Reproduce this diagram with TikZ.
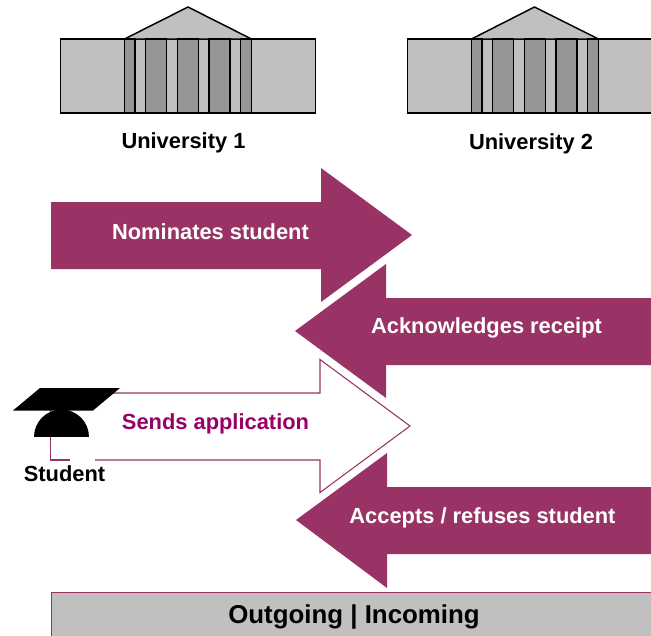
\documentclass[tikz,border=0pt]{standalone}
\usepackage{fontspec}
\setmainfont{Liberation Sans}
\definecolor{plum}{RGB}{153,51,102}
\definecolor{plumtext}{RGB}{153,0,102}
\definecolor{lightgrey}{RGB}{192,192,192}
\definecolor{midgrey}{RGB}{150,150,150}
\tikzset{
  wall/.style={draw=black,line width=1.1pt,fill=lightgrey},
  column/.style={draw=black,line width=1.1pt,fill=midgrey},
  solidarrow/.style={fill=plum},
  openarrow/.style={draw=plum,line width=0.8pt,fill=white},
  whitelabel/.style={text=white,font=\fontsize{16.4pt}{18pt}\bfseries},
  blacklabel/.style={text=black,font=\fontsize{16.4pt}{18pt}\bfseries},
}
\begin{document}
\begin{tikzpicture}[x=0.75pt,y=0.75pt,yscale=-1,xscale=1]
\useasboundingbox (0,0) rectangle (651,636);
\clip (0,0) rectangle (651,636);

%Shape: Building 1
\draw [wall] (60.5,39) rectangle (315.5,113);
\draw [wall] (124.5,39) -- (188,7) -- (251.5,39) -- cycle;
\draw [column] (124.5,39) rectangle (135,113);
\draw [column] (145.5,39) rectangle (166.5,113);
\draw [column] (177.5,39) rectangle (198.5,113);
\draw [column] (209,39) rectangle (230,113);
\draw [column] (240.5,39) rectangle (251.5,113);

%Shape: Building 2
\draw [wall] (407.5,39) rectangle (662.5,113);
\draw [wall] (471.5,39) -- (534.5,7) -- (598.5,39) -- cycle;
\draw [column] (471.5,39) rectangle (482,113);
\draw [column] (492.5,39) rectangle (513.5,113);
\draw [column] (524.5,39) rectangle (545.5,113);
\draw [column] (556,39) rectangle (577,113);
\draw [column] (587.5,39) rectangle (598.5,113);

%Shape: Arrows
\fill [solidarrow] (51,202) -- (321,202) -- (321,168) -- (412,235) -- (321,302) -- (321,269) -- (51,269) -- cycle;
\fill [solidarrow] (660,298) -- (386,298) -- (386,264) -- (295,331) -- (386,398) -- (386,365) -- (660,365) -- cycle;
\draw [openarrow] (50.5,393) -- (320,393) -- (320,359.5) -- (410,426) -- (320,492.5) -- (320,460) -- (50.5,460) -- cycle;
\fill [solidarrow] (660,487) -- (387,487) -- (387,453) -- (296,520) -- (387,588) -- (387,554) -- (660,554) -- cycle;

%Shape: Bar
\draw [draw=plum,line width=0.8pt,fill=lightgrey] (51.5,592.5) rectangle (670,650);

%Shape: Cap
\fill [black] (61.5,437) ellipse [x radius=27.5,y radius=27.5];
\fill [white] (30,437) rectangle (95,466);
\draw [plum,line width=0.8pt] (50.5,437) -- (50.5,460) -- (70,460);
\fill [black] (13,410.5) -- (40,388) -- (120,388) -- (93,410.5) -- cycle;

% Text Node
\node [blacklabel] (uni1) at (183.5,142.5) {University 1};
% Text Node
\node [blacklabel] (uni2) at (531,143.5) {University 2};
% Text Node
\node [whitelabel] (nominates) at (210.5,232) {Nominates student};
% Text Node
\node [whitelabel] (acknowledges) at (486.5,328) {Acknowledges receipt};
% Text Node
\node [text=plumtext,font=\fontsize{16.4pt}{18pt}\bfseries] (sends) at (215.5,423.5) {Sends application};
% Text Node
\node [blacklabel] (student) at (64.5,473.5) {Student};
% Text Node
\node [whitelabel] (accepts) at (482.5,517.5) {Accepts / refuses student};
% Text Node
\node [text=black,font=\fontsize{19.4pt}{22pt}\bfseries] (outgoing) at (354,617) {Outgoing | Incoming};

\end{tikzpicture}
\end{document}
